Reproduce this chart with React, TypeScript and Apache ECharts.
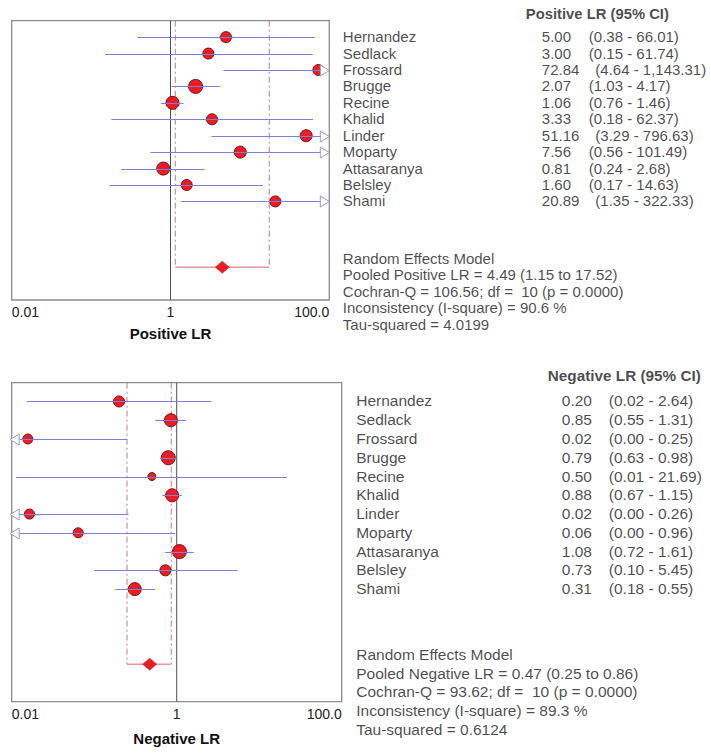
import React, { useEffect, useRef } from "react";
import * as echarts from "echarts";

// ---------- data ----------
const STUDIES = ["Hernandez", "Sedlack", "Frossard", "Brugge", "Recine", "Khalid", "Linder", "Moparty", "Attasaranya", "Belsley", "Shami"];

const POS_LR = [5.0, 3.0, 72.84, 2.07, 1.06, 3.33, 51.16, 7.56, 0.81, 1.6, 20.89];
const POS_LO = [0.38, 0.15, 4.64, 1.03, 0.76, 0.18, 3.29, 0.56, 0.24, 0.17, 1.35];
const POS_HI = [66.01, 61.74, 1143.31, 4.17, 1.46, 62.37, 796.63, 101.49, 2.68, 14.63, 322.33];
const POS_SIZE = [11, 11, 11, 14, 13, 11, 12, 12, 13, 11, 11];
const POS_POOLED = [4.49, 1.15, 17.52];
const POS_STATS = [
  "Random Effects Model",
  "Pooled Positive LR = 4.49 (1.15 to 17.52)",
  "Cochran-Q = 106.56; df =  10 (p = 0.0000)",
  "Inconsistency (I-square) = 90.6 %",
  "Tau-squared = 4.0199",
];

const NEG_LR = [0.2, 0.85, 0.0157, 0.79, 0.5, 0.88, 0.0164, 0.064, 1.08, 0.73, 0.31];
const NEG_LO = [0.0152, 0.55, 0.001, 0.63, 0.0113, 0.67, 0.001, 0.001, 0.72, 0.1, 0.18];
const NEG_HI = [2.64, 1.31, 0.25, 0.98, 21.69, 1.15, 0.26, 0.96, 1.61, 5.45, 0.55];
const NEG_SIZE = [11, 13, 10, 14, 8, 13, 10, 10, 14, 11, 13];
const NEG_POOLED = [0.47, 0.25, 0.86];
const NEG_STATS = [
  "Random Effects Model",
  "Pooled Negative LR = 0.47 (0.25 to 0.86)",
  "Cochran-Q = 93.62; df =  10 (p = 0.0000)",
  "Inconsistency (I-square) = 89.3 %",
  "Tau-squared = 0.6124",
];

const TICK_VALUES = [0.01, 1, 100];
const TICK_LABELS = ["0.01", "1", "100.0"];

const X_MIN = 0.01;
const X_MAX = 100;
const Y_MIN = -1;
const Y_MAX = 16;
const POOLED_ROW = 14;
const HEADER_ROW = -1.35;
const STATS_ROW = 13.5;

// ---------- helpers ----------
const FONT = "'Liberation Sans', Arial, sans-serif";
const fmt = (v: number) =>
  v.toLocaleString("en-US", { minimumFractionDigits: 2, maximumFractionDigits: 2 });

const ciRender = (params: any, api: any) => {
  const lo = api.value(0);
  const row = api.value(1);
  const hi = api.value(2);
  const p1 = api.coord([Math.max(lo, X_MIN), row]);
  const p2 = api.coord([Math.min(hi, X_MAX), row]);
  let x1 = p1[0];
  let x2 = p2[0];
  const y = Math.round(p1[1]) + 0.5;
  const L = 9;
  const H = 5.5;
  const children: any[] = [];
  const arrowStyle = { fill: "#ffffff", stroke: "#9a9ac8", lineWidth: 1 };
  if (hi > X_MAX) {
    children.push({ type: "polygon", shape: { points: [[x2 - L, y - H], [x2, y], [x2 - L, y + H]] }, style: arrowStyle });
    x2 -= L;
  }
  if (lo < X_MIN) {
    x1 -= 1.5;
    children.push({ type: "polygon", shape: { points: [[x1 + L, y - H], [x1, y], [x1 + L, y + H]] }, style: arrowStyle });
    x1 += L;
  }
  children.unshift({ type: "line", shape: { x1, y1: y, x2, y2: y }, style: { stroke: "#7f7fd6", lineWidth: 1.1 } });
  return { type: "group", children };
};

const textSeries = (gi: number, rows: number[], texts: string[], dx: number, fontSize: number, bold = false) => ({
  type: "scatter",
  xAxisIndex: gi,
  yAxisIndex: gi,
  data: rows.map((r) => [X_MAX, r]),
  symbolSize: 1,
  clip: false,
  silent: true,
  itemStyle: { color: "rgba(0,0,0,0)" },
  z: 10,
  label: {
    show: true,
    position: [dx, 0],
    align: "left",
    verticalAlign: "middle",
    formatter: (p: any) => texts[p.dataIndex],
    fontSize,
    fontWeight: bold ? "bold" : "normal",
    fontFamily: FONT,
    color: "#1c1c1c",
  },
});

const buildPanel = (
  gi: number,
  lr: number[],
  lo: number[],
  hi: number[],
  sizes: number[],
  pooled: number[],
  stats: string[],
  header: string,
  lay: { name: number; val: number; ci: number; head: number; fs: number; hfs: number }
) => {
  const rows = lr.map((_, i) => i);
  const base = { xAxisIndex: gi, yAxisIndex: gi, silent: true };
  const series: any[] = [];
  series.push({ ...base, type: "line", data: [[1, Y_MIN], [1, Y_MAX]], symbol: "none", lineStyle: { color: "#505050", width: 1 }, z: 1 });
  for (const v of [pooled[1], pooled[2]]) {
    series.push({ ...base, type: "line", data: [[v, Y_MIN], [v, POOLED_ROW]], symbol: "none", lineStyle: { color: "#c47a88", width: 1, type: [6, 3, 2, 3] }, z: 1 });
  }
  series.push({ ...base, type: "line", data: [[pooled[1], POOLED_ROW], [pooled[2], POOLED_ROW]], symbol: "none", lineStyle: { color: "#d9646e", width: 1 }, z: 1 });
  series.push({
    ...base,
    type: "scatter",
    data: lr.map((v, i) => ({ value: [v, i], symbolSize: sizes[i] })),
    itemStyle: { color: "#ec1c24", borderColor: "#7a1010", borderWidth: 1, opacity: 1 },
    z: 3,
  });
  series.push({ ...base, type: "custom", renderItem: ciRender, data: lr.map((_, i) => [lo[i], i, hi[i]]), encode: { x: [0, 2], y: 1 }, z: 4 });
  series.push({
    ...base,
    type: "scatter",
    data: [[pooled[0], POOLED_ROW]],
    symbol: "diamond",
    symbolSize: [14, 12],
    itemStyle: { color: "#ec1c24", borderColor: "#c8101a", borderWidth: 0.5, opacity: 1 },
    z: 5,
  });
  // table texts
  series.push(textSeries(gi, [HEADER_ROW], [header], lay.head, lay.hfs, true));
  series.push(textSeries(gi, rows, STUDIES, lay.name, lay.fs));
  const valTexts = lr.map((v) => fmt(v));
  series.push(textSeries(gi, rows, valTexts, lay.val, lay.fs));
  // CI column position shifts with value width
  const ciTexts = lr.map((_, i) => `(${fmt(lo[i])} - ${fmt(hi[i])})`);
  const groups: Record<number, number[]> = {};
  valTexts.forEach((t, i) => {
    (groups[t.length] = groups[t.length] || []).push(i);
  });
  Object.keys(groups).forEach((k) => {
    const idx = groups[Number(k)];
    series.push(textSeries(gi, idx, idx.map((i) => ciTexts[i]), lay.ci + (Number(k) - 4) * 6.5, lay.fs));
  });
  series.push(textSeries(gi, stats.map((_, k) => STATS_ROW + k), stats, lay.name, lay.fs));
  return series;
};

const tickFormatter = (v: number) => {
  for (let i = 0; i < TICK_VALUES.length; i++) {
    if (Math.abs(Math.log10(v) - Math.log10(TICK_VALUES[i])) < 1e-6) return TICK_LABELS[i];
  }
  return "";
};

const xAxis = (gi: number, name: string, nameGap: number) => ({
  type: "log",
  logBase: 10,
  gridIndex: gi,
  min: X_MIN,
  max: X_MAX,
  axisLine: { show: false },
  axisTick: { show: false },
  splitLine: { show: false },
  axisLabel: {
    formatter: tickFormatter,
    fontSize: 14,
    fontFamily: FONT,
    color: "#222",
    margin: 5,
    alignMinLabel: "left",
    alignMaxLabel: "right",
    hideOverlap: false,
  },
  name,
  nameLocation: "middle",
  nameGap,
  nameTextStyle: { fontWeight: "bold", fontSize: 15, fontFamily: FONT, color: "#111" },
});

const yAxis = (gi: number) => ({ type: "value", gridIndex: gi, min: Y_MIN, max: Y_MAX, inverse: true, show: false });

export default function App() {
  const ref = useRef<HTMLDivElement>(null);
  useEffect(() => {
    if (!ref.current) return;
    const chart = echarts.init(ref.current, undefined, { renderer: "svg" });
    chart.setOption({
      animation: false,
      backgroundColor: "#ffffff",
      textStyle: { fontFamily: FONT },
      grid: [
        { left: 11.7, top: 20.7, width: 317.6, height: 279.3, show: true, borderColor: "#8c8c8c", borderWidth: 1.3, backgroundColor: "transparent", containLabel: false },
        { left: 11.7, top: 382.7, width: 330, height: 319, show: true, borderColor: "#8c8c8c", borderWidth: 1.3, backgroundColor: "transparent", containLabel: false },
      ],
      xAxis: [xAxis(0, "Positive LR", 26), xAxis(1, "Negative LR", 29)],
      yAxis: [yAxis(0), yAxis(1)],
      series: [
        ...buildPanel(0, POS_LR, POS_LO, POS_HI, POS_SIZE, POS_POOLED, POS_STATS, "Positive LR (95% CI)", {
          name: 14,
          val: 213,
          ci: 260,
          head: 197,
          fs: 15,
          hfs: 14.8,
        }),
        ...buildPanel(1, NEG_LR, NEG_LO, NEG_HI, NEG_SIZE, NEG_POOLED, NEG_STATS, "Negative LR (95% CI)", {
          name: 15,
          val: 220.6,
          ci: 267.6,
          head: 206.6,
          fs: 15.5,
          hfs: 15.3,
        }),
      ],
    });
    return () => chart.dispose();
  }, []);
  return <div ref={ref} style={{ position: "fixed", left: 0, top: 0, width: 711, height: 755 }} />;
}
